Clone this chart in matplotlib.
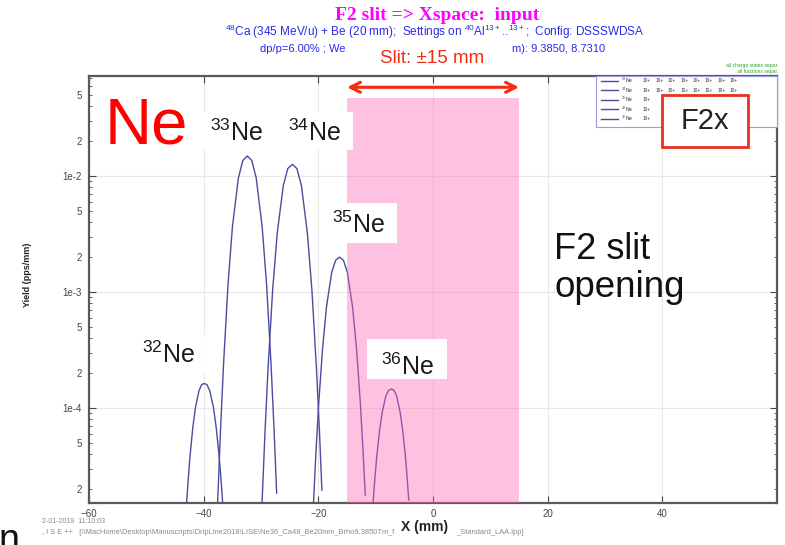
import numpy as np
import matplotlib.pyplot as plt
from matplotlib.patches import Rectangle
from matplotlib.lines import Line2D
from matplotlib.ticker import LogLocator, FuncFormatter

plt.rcParams['font.family'] = ['Liberation Sans', 'DejaVu Sans']
plt.rcParams['mathtext.fontset'] = 'custom'
plt.rcParams['mathtext.rm'] = 'Liberation Sans'
plt.rcParams['mathtext.it'] = 'Liberation Sans:italic'
plt.rcParams['mathtext.bf'] = 'Liberation Sans:bold'

# yield distributions (X in mm, yield in pps/mm)
x32 = [-42.98, -42.67, -42.36, -41.90, -41.44, -40.82, -40.36, -39.90,
       -39.42, -38.93, -38.29, -37.81, -37.32, -37.00, -36.68]
y32 = [1.51e-5, 2.52e-5, 3.94e-5, 6.76e-5, 1.01e-4, 1.41e-4, 1.59e-4, 1.63e-4,
       1.59e-4, 1.41e-4, 1.01e-4, 6.76e-5, 3.94e-5, 2.52e-5, 1.51e-5]

x33 = [-37.57, -37.05, -36.53, -35.76, -34.98, -33.94, -33.17, -32.39,
       -31.61, -30.84, -29.80, -29.02, -28.25, -27.73, -27.27]
y33 = [1.51e-5, 6.67e-5, 2.40e-4, 1.15e-3, 3.67e-3, 9.64e-3, 1.36e-2, 1.49e-2,
       1.36e-2, 9.64e-3, 3.67e-3, 1.15e-3, 2.40e-4, 6.67e-5, 1.85e-5]

x34 = [-29.82, -29.29, -28.76, -27.97, -27.17, -26.11, -25.32, -24.52,
       -23.74, -22.95, -21.91, -21.12, -20.34, -19.81, -19.38]
y34 = [1.51e-5, 6.44e-5, 2.25e-4, 1.04e-3, 3.22e-3, 8.28e-3, 1.16e-2, 1.26e-2,
       1.16e-2, 8.28e-3, 3.22e-3, 1.04e-3, 2.25e-4, 6.44e-5, 1.96e-5]

x35 = [-20.85, -20.40, -19.94, -19.26, -18.58, -17.67, -16.98, -16.30,
       -15.62, -14.94, -14.03, -13.34, -12.66, -12.21, -11.82]
y35 = [1.51e-5, 4.34e-5, 1.08e-4, 3.27e-4, 7.43e-4, 1.48e-3, 1.88e-3, 2.00e-3,
       1.88e-3, 1.48e-3, 7.43e-4, 3.27e-4, 1.08e-4, 4.34e-5, 1.78e-5]

x36 = [-10.46, -10.14, -9.82, -9.34, -8.86, -8.22, -7.74, -7.26,
       -6.80, -6.34, -5.73, -5.26, -4.80, -4.50, -4.23]
y36 = [1.51e-5, 2.47e-5, 3.76e-5, 6.30e-5, 9.20e-5, 1.27e-4, 1.42e-4, 1.46e-4,
       1.42e-4, 1.27e-4, 9.20e-5, 6.30e-5, 3.76e-5, 2.47e-5, 1.61e-5]

slit_half = 15
xticks = [-60, -40, -20, 0, 20, 40]
legend_mass = [33, 34, 35, 32, 36]

W, H = 785, 545
def fx(px):
    return px / W
def fy(py):
    return 1 - py / H

fig = plt.figure(figsize=(7.85, 5.45), dpi=100)
ax = fig.add_axes([fx(89), fy(503), fx(777) - fx(89), (503 - 75.5) / H])

line_col = '#4b4ba0'
for xs, ys in [(x32, y32), (x33, y33), (x34, y34), (x35, y35), (x36, y36)]:
    ax.plot(xs, ys, color=line_col, lw=1.0, zorder=2)

ax.axvspan(-slit_half, slit_half, ymin=0, ymax=0.947, color='#ff66b3', alpha=0.4, lw=0, zorder=3)
ax.annotate('', xy=(slit_half, 0.9724), xytext=(-slit_half, 0.9724),
            xycoords=('data', 'axes fraction'), textcoords=('data', 'axes fraction'),
            arrowprops=dict(arrowstyle='<->', color='#f52a10', lw=2.2, mutation_scale=18,
                            shrinkA=0, shrinkB=0))

ax.set_yscale('log')
ax.set_xlim(-60, 60)
ax.set_ylim(1.52e-5, 7.35e-2)
ax.set_xticks(xticks)
ax.yaxis.set_major_locator(LogLocator(base=10, subs=(1.0,)))
ax.yaxis.set_minor_locator(LogLocator(base=10, subs=np.arange(2, 10), numticks=50))
ax.yaxis.set_major_formatter(FuncFormatter(lambda v, p: '1e%d' % round(np.log10(v))))

def minor_fmt(v, p):
    m = v / 10 ** np.floor(np.log10(v) + 1e-9)
    r = int(round(m))
    return str(r) if r in (2, 5) else ''
ax.yaxis.set_minor_formatter(FuncFormatter(minor_fmt))

ax.grid(True, which='major', color='#e8e8e8', lw=0.8)
ax.set_axisbelow(True)
ax.tick_params(which='both', direction='in', top=True, right=True, labelsize=7,
               colors='#444444')
ax.tick_params(which='major', length=5)
ax.tick_params(which='minor', length=2.5)
ax.tick_params(axis='x', pad=4)
ax.tick_params(axis='y', which='both', pad=5)
for s in ax.spines.values():
    s.set_color('#5a5a5a')
    s.set_linewidth(1.6)

def box(x0, y0, x1, y1, ec='none', lw=0, z=4):
    fig.add_artist(Rectangle((fx(x0), fy(y1)), fx(x1) - fx(x0), (y1 - y0) / H,
                             transform=fig.transFigure, facecolor='white',
                             edgecolor=ec, lw=lw, zorder=z))

# titles
fig.text(fx(437), fy(20), 'F2 slit => Xspace:  input', family='Liberation Serif',
         weight='bold', fontsize=14, color='#ff00ff', ha='center', va='baseline')
fig.text(fx(435), fy(36), r'$\mathregular{^{48}}$Ca (345 MeV/u) + Be (20 mm);  Settings on '
         r'$\mathregular{^{40}}$Al$\mathregular{^{13+}}$..$\mathregular{^{13+}}$;  Config: DSSSWDSA',
         fontsize=8.5, color='#2a2ae8', ha='center', va='baseline')
fig.text(fx(345), fy(52), 'dp/p=6.00% ; We', fontsize=8, color='#2a2ae8', ha='right', va='baseline')
fig.text(fx(512), fy(52), 'm): 9.3850, 8.7310', fontsize=8, color='#2a2ae8', ha='left', va='baseline')
fig.text(fx(432), fy(63.3), 'Slit: \u00b115 mm', fontsize=13.5, color='#f52a10', ha='center', va='baseline')
fig.text(fx(778), fy(67.5), 'all charge states separ.', fontsize=3.6, color='#30a030', ha='right', va='baseline')
fig.text(fx(778), fy(73), 'all fractions separ.', fontsize=3.6, color='#30a030', ha='right', va='baseline')

# legend box (partly hidden behind the F2x box)
f2x = (661.9, 95.3, 747.9, 146.5)
box(596.4, 76.2, 777, 127.4, ec='#9a9ae0', lw=0.8, z=4)
for i, m in enumerate(legend_mass):
    yr = 80.6 + i * 9.55
    fig.add_artist(Line2D([fx(600.5), fx(618)], [fy(yr), fy(yr)], color=line_col, lw=1, zorder=5))
    fig.text(fx(621), fy(yr), r'$\mathregular{^{%d}}$Ne' % m, fontsize=3.6, color='#333333',
             va='center', zorder=6)
    for k in range(8):
        cx = 643 + k * 12.4
        if yr > f2x[1] - 3 and f2x[0] - 12 < cx < f2x[2]:
            continue
        fig.text(fx(cx), fy(yr), '10+', fontsize=3.4, color='#333333', va='center', zorder=6)

# F2x box
box(*f2x, ec='#e8321e', lw=2, z=7)
fig.text(fx(705), fy(121), 'F2x', fontsize=21, color='#222222', ha='center', va='center', zorder=8)

# element and isotope labels
fig.text(fx(105), fy(143.3), 'Ne', fontsize=47, color='#ff0000', va='baseline', zorder=6)
box(201.7, 111.7, 281.7, 150)
box(281.7, 111.7, 353.3, 150)
box(325, 203.3, 397.3, 243.3)
box(366.7, 339, 447, 379)
box(132, 335, 205, 373)
labels = [(32, 142, 363.3), (33, 210.5, 140.7), (34, 287.5, 140.7), (35, 332, 233.3), (36, 381, 375)]
for m, px, py in labels:
    fig.text(fx(px), fy(py), r'$\mathregular{^{%d}}$Ne' % m, fontsize=18, color='#1a1a1a',
             va='baseline', zorder=6)

fig.text(fx(554), fy(259), 'F2 slit', fontsize=26, color='#111111', va='baseline', zorder=6)
fig.text(fx(554), fy(296.7), 'opening', fontsize=26.5, color='#111111', va='baseline', zorder=6)

# axis labels and footer
fig.text(fx(28), fy(275), 'Yield (pps/mm)', rotation=90, fontsize=6.5, weight='bold',
         color='#222222', ha='center', va='center')
fig.text(fx(42), fy(523), '2-01-2019  11:10:03', fontsize=5, color='#888888', va='baseline')
fig.text(fx(42), fy(534), ', l S E ++   [\\\\MacHome\\Desktop\\Manuscripts\\DripLine2018\\LISE\\'
         'Ne36_Ca48_Be20mm_Brho9.3850Tm_f',
         fontsize=5.4, color='#888888', va='baseline')
fig.text(fx(456), fy(534), '_Standard_LAA.lpp]', fontsize=5.4, color='#888888', va='baseline')
fig.text(fx(425), fy(527), 'X (mm)', fontsize=10, weight='bold', color='#222222', ha='center',
         va='center', zorder=6)
fig.text(fx(-2), fy(551), 'n', fontsize=27, color='#111111', va='baseline')

fig.savefig('out.png', dpi=100)
